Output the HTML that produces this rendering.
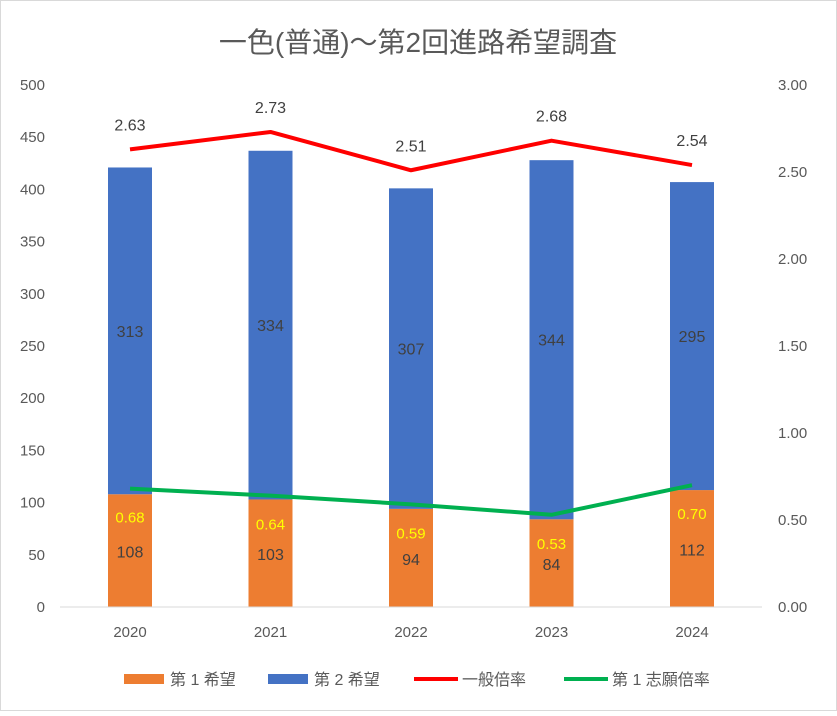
<!DOCTYPE html>
<html><head><meta charset="utf-8"><style>
body{margin:0;background:#fff;}
svg text{font-family:"Liberation Sans","Noto Sans CJK JP",sans-serif;}
</style></head><body>
<svg id="chart" width="837" height="711" xmlns="http://www.w3.org/2000/svg">
<rect x="0.5" y="0.5" width="836" height="710" fill="#fff" stroke="#d9d9d9"/>
<text x="418" y="52" text-anchor="middle" font-size="28" fill="#595959">一色(普通)～第2回進路希望調査</text>
<g id="plot"></g>
<g id="legend" font-size="16" fill="#595959">
<rect x="124" y="674" width="40" height="10" fill="#ed7d31"/>
<text x="170" y="685" fill="#595959">第 1 希望</text>
<rect x="268" y="674" width="40" height="10" fill="#4472c4"/>
<text x="314" y="685" fill="#595959">第 2 希望</text>
<line x1="414" y1="679" x2="458" y2="679" stroke="#ff0000" stroke-width="4"/>
<text x="462" y="685" fill="#595959">一般倍率</text>
<line x1="564" y1="679" x2="608" y2="679" stroke="#00b050" stroke-width="4"/>
<text x="612" y="685" fill="#595959">第 1 志願倍率</text>
</g>
</svg>
<script>
const categories=["2020","2021","2022","2023","2024"];
const first=[108,103,94,84,112];
const second=[313,334,307,344,295];
const general=[2.63,2.73,2.51,2.68,2.54];
const firstChoice=[0.68,0.64,0.59,0.53,0.70];
const leftTicks=[0,50,100,150,200,250,300,350,400,450,500];
const rightTicks=[0,0.5,1,1.5,2,2.5,3];

const NS="http://www.w3.org/2000/svg";
const g=document.getElementById('plot');
const top0=85,bot=607,x0=60,step=140.5,firstX=130,bw=44;
const yL=v=>bot-v/500*(bot-top0);
const yR=v=>bot-v/3*(bot-top0);
const xC=i=>firstX+i*step;
function mk(tag,attrs,text){const e=document.createElementNS(NS,tag);for(const k in attrs)e.setAttribute(k,attrs[k]);if(text!==undefined)e.textContent=text;g.appendChild(e);return e;}

leftTicks.forEach(v=>{const t=mk('text',{x:45,y:yL(v)+5,'text-anchor':'end','font-size':15,fill:'#595959'},String(v));

});
rightTicks.forEach(v=>{const t=mk('text',{x:778,y:yR(v)+5,'font-size':15,fill:'#595959'},v.toFixed(2));

});

categories.forEach((c,i)=>{
 const x=xC(i);
 const b1=mk('rect',{x:x-bw/2,y:yL(first[i]),width:bw,height:bot-yL(first[i]),fill:'#ed7d31'});
 
 
 const b2=mk('rect',{x:x-bw/2,y:yL(first[i]+second[i]),width:bw,height:yL(first[i])-yL(first[i]+second[i]),fill:'#4472c4'});
 
 
 const l2=mk('text',{x:x,y:(yL(first[i])+yL(first[i]+second[i]))/2+6,'text-anchor':'middle','font-size':16,fill:'#404040'},String(second[i]));
 
 
 const l1=mk('text',{x:x,y:yL(first[i]/2)+7,'text-anchor':'middle','font-size':16,fill:'#404040'},String(first[i]));
 
 
 const xl=mk('text',{x:x,y:637,'text-anchor':'middle','font-size':15,fill:'#595959'},c);
 
 
});
const ax=mk('line',{x1:x0,y1:bot,x2:762,y2:bot,stroke:'#d9d9d9'});



const p1=mk('polyline',{points:general.map((v,i)=>xC(i)+','+yR(v)).join(' '),fill:'none',stroke:'#ff0000','stroke-width':4,'stroke-linejoin':'round'});


const p2=mk('polyline',{points:firstChoice.map((v,i)=>xC(i)+','+yR(v)).join(' '),fill:'none',stroke:'#00b050','stroke-width':4,'stroke-linejoin':'round'});


general.forEach((v,i)=>{const t=mk('text',{x:xC(i),y:yR(v)-19,'text-anchor':'middle','font-size':16,fill:'#404040'},v.toFixed(2));

});
firstChoice.forEach((v,i)=>{const t=mk('text',{x:xC(i),y:yR(v)+34,'text-anchor':'middle','font-size':15,fill:'#ffff00'},v.toFixed(2));

});
</script>
</body></html>
